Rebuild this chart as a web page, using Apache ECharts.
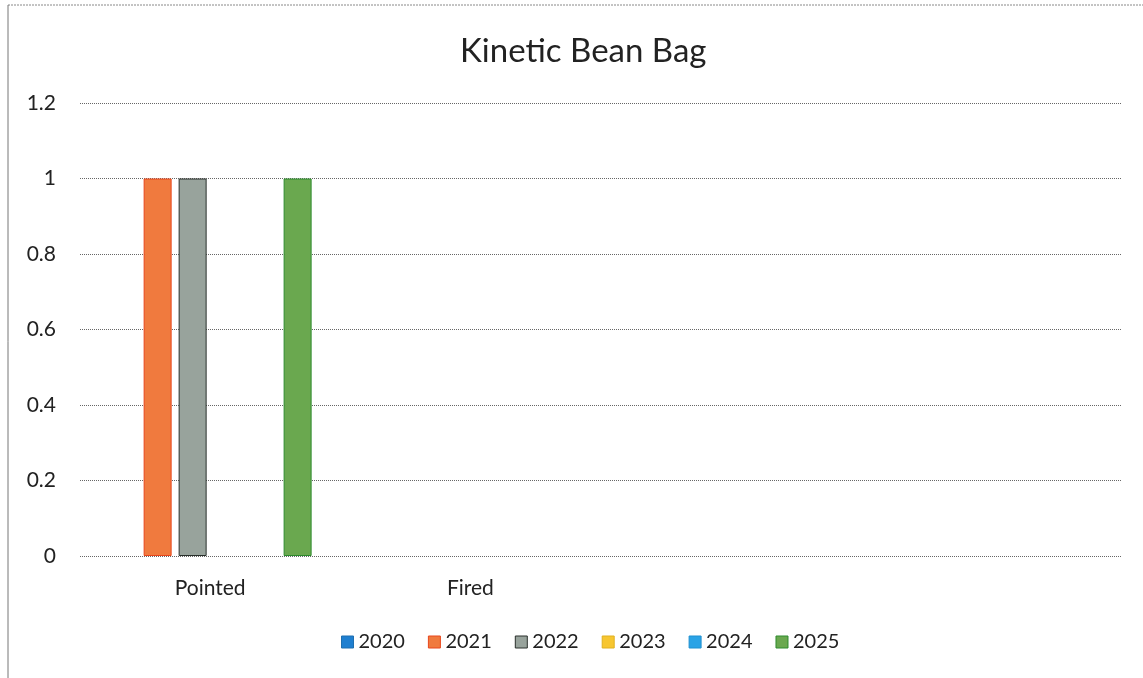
<!DOCTYPE html>
<html>
<head>
<meta charset="utf-8">
<script src="https://cdn.jsdelivr.net/npm/echarts@6/dist/echarts.min.js"></script>
<style>html,body{margin:0;padding:0;background:#fff;}#c{width:1143px;height:678px;}</style>
</head>
<body>
<div id="c"></div>
<script>
const categories = ['Pointed', 'Fired', '', ''];
const seriesNames = ['2020', '2021', '2022', '2023', '2024', '2025'];
const v2020 = [0, 0, 0, 0];
const v2021 = [1, 0, 0, 0];
const v2022 = [1, 0, 0, 0];
const v2023 = [0, 0, 0, 0];
const v2024 = [0, 0, 0, 0];
const v2025 = [1, 0, 0, 0];
const colors = ['#1f7fd0', '#f07a3e', '#98a39c', '#f7c630', '#2aa3e6', '#6aa84f'];
const borders = ['#1f6fb0', '#e8471c', '#2a302c', '#e0b020', '#1f90d0', '#2e8b2e'];
const values = [v2020, v2021, v2022, v2023, v2024, v2025];
const fontFam = 'Lato, "Open Sans", sans-serif';

const chart = echarts.init(document.getElementById('c'));
chart.setOption({
  animation: false,
  backgroundColor: '#fff',
  title: {
    text: 'Kinetic Bean Bag', left: 455, top: 30,
    textStyle: { fontFamily: fontFam, fontSize: 33, fontWeight: 'normal', color: '#222' }
  },
  legend: {
    bottom: 21, left: 336, itemWidth: 12, itemHeight: 12, itemGap: 23,
    icon: 'rect',
    textStyle: { fontFamily: fontFam, fontSize: 20, color: '#222' },
    data: seriesNames.map((n, i) => ({ name: n, itemStyle: { borderColor: borders[i], borderWidth: 1 } }))
  },
  grid: { left: 80, right: 22, top: 103, bottom: 122 },
  xAxis: {
    type: 'category', data: categories,
    axisLine: { show: false }, axisTick: { show: false },
    axisLabel: { fontFamily: fontFam, fontSize: 21, color: '#222', margin: 22 }
  },
  yAxis: {
    type: 'value', min: 0, max: 1.2, interval: 0.2,
    axisLine: { show: false }, axisTick: { show: false },
    axisLabel: { fontFamily: fontFam, fontSize: 21, color: '#222', margin: 24 },
    splitLine: { lineStyle: { color: '#666', type: 'dotted', width: 1 } }
  },
  graphic: [
    { type: 'line', shape: { x1: 8, y1: 5, x2: 1143, y2: 5 }, style: { stroke: '#888', lineWidth: 1, lineDash: [2, 1] } },
    { type: 'line', shape: { x1: 8, y1: 5, x2: 8, y2: 678 }, style: { stroke: '#777', lineWidth: 1 } }
  ],
  series: seriesNames.map((n, i) => ({
    name: n, type: 'bar',
    data: values[i].map(v => ({ value: v, itemStyle: v === 0 ? { borderWidth: 0, opacity: 0 } : {} })),
    barGap: '25%', barCategoryGap: '22%',
    itemStyle: { color: colors[i], borderColor: borders[i], borderWidth: 1 }
  }))
});
</script>
</body>
</html>
